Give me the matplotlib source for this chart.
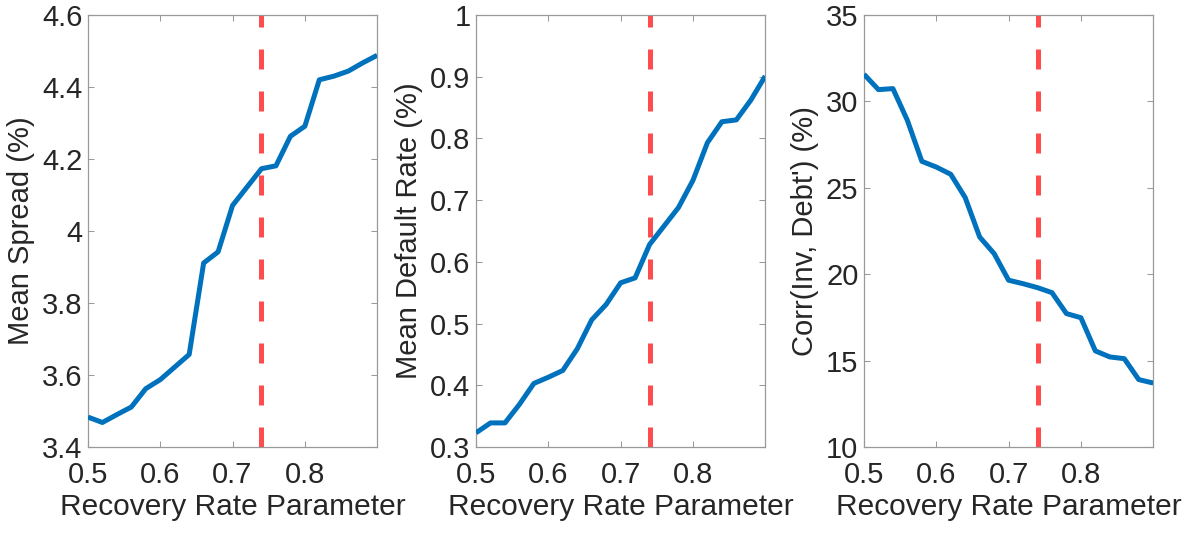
import matplotlib
matplotlib.use("Agg")
import matplotlib.pyplot as plt
import numpy as np

# recovery rate grid and the calibrated value
recovery = [0.50, 0.52, 0.54, 0.56, 0.58, 0.60, 0.62, 0.64, 0.66, 0.68, 0.70,
            0.72, 0.74, 0.76, 0.78, 0.80, 0.82, 0.84, 0.86, 0.88, 0.90]
recovery_baseline = 0.74

mean_spread = [3.483, 3.468, 3.490, 3.511, 3.562, 3.587, 3.622, 3.657, 3.911, 3.942, 4.071,
               4.122, 4.173, 4.181, 4.263, 4.291, 4.420, 4.430, 4.444, 4.467, 4.488]
mean_default = [0.323, 0.339, 0.339, 0.369, 0.403, 0.413, 0.424, 0.459, 0.506, 0.531, 0.566,
                0.574, 0.628, 0.658, 0.688, 0.732, 0.793, 0.827, 0.830, 0.862, 0.901]
corr_inv_debt = [31.57, 30.68, 30.74, 28.90, 26.53, 26.20, 25.78, 24.43, 22.15, 21.19, 19.65,
                 19.45, 19.22, 18.93, 17.72, 17.48, 15.56, 15.21, 15.11, 13.90, 13.70]

ylabels = ["Mean Spread (%)", "Mean Default Rate (%)", "Corr(Inv, Debt') (%)"]
yticks = [[3.4, 3.6, 3.8, 4.0, 4.2, 4.4, 4.6],
          [0.3, 0.4, 0.5, 0.6, 0.7, 0.8, 0.9, 1.0],
          [10, 15, 20, 25, 30, 35]]
yticklabels = [["3.4", "3.6", "3.8", "4", "4.2", "4.4", "4.6"],
               ["0.3", "0.4", "0.5", "0.6", "0.7", "0.8", "0.9", "1"],
               ["10", "15", "20", "25", "30", "35"]]
xticks = [0.5, 0.6, 0.7, 0.8]
xticklabels = ["0.5", "0.6", "0.7", "0.8"]

plt.rcParams['font.family'] = ['Liberation Sans', 'DejaVu Sans']
TXT = '#262626'

fig = plt.figure(figsize=(12, 5.41), dpi=100)
lefts = [0.0733, 0.3967, 0.72]
series = [mean_spread, mean_default, corr_inv_debt]

for i in range(3):
    ax = fig.add_axes([lefts[i], 0.1738, 0.2410, 0.7985])
    ax.plot(recovery, series[i], color='#0072BD', linewidth=3.6, solid_capstyle='butt', zorder=3)
    ax.axvline(recovery_baseline, color='#FF4C4C', linewidth=3.6,
               linestyle=(0, (4.0, 4.4)), zorder=2)

    ax.set_xlim(0.5, 0.9)
    ax.set_ylim(yticks[i][0], yticks[i][-1])
    ax.set_xticks(xticks)
    ax.set_xticklabels(xticklabels)
    ax.set_yticks(yticks[i])
    ax.set_yticklabels(yticklabels[i])

    ax.tick_params(direction='in', length=4, width=0.75, color='#999999',
                   labelsize=21, labelcolor=TXT, top=True, right=True)
    ax.tick_params(axis='x', pad=10)
    ax.tick_params(axis='y', pad=4)
    for s in ax.spines.values():
        s.set_color('#999999')
        s.set_linewidth(0.9)

    ax.set_xlabel("Recovery Rate Parameter", fontsize=21.5, color=TXT, labelpad=3)
    ax.set_ylabel(ylabels[i], fontsize=21, color=TXT, labelpad=5)

fig.savefig("out.png", dpi=100)
